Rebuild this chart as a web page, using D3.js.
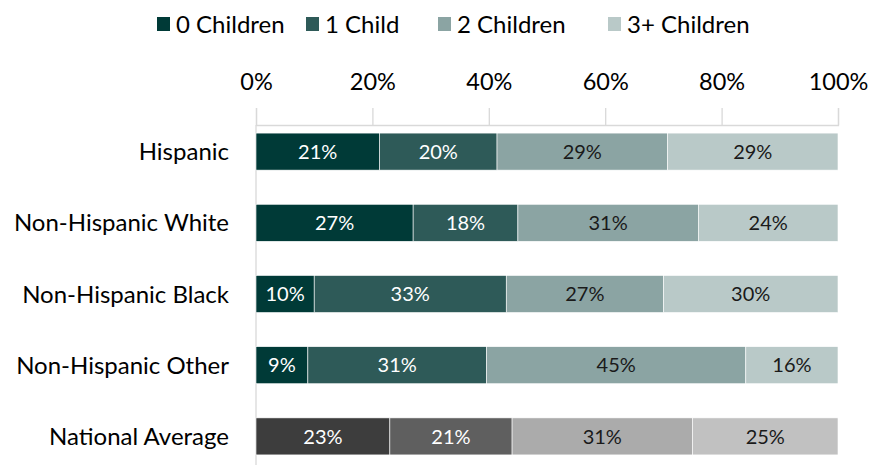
<!DOCTYPE html>
<html>
<head>
<meta charset="utf-8">
<script src="https://cdn.jsdelivr.net/npm/d3@7"></script>
<style>
  html, body { margin: 0; padding: 0; background: #fff; }
  svg { display: block; font-family: Lato, "Open Sans", sans-serif; }
</style>
</head>
<body>
<svg id="chart" width="870" height="465"></svg>
<script>
// Share of households by number of children, per group
const groups = ["Hispanic", "Non-Hispanic White", "Non-Hispanic Black", "Non-Hispanic Other", "National Average"];
const seriesNames = ["0 Children", "1 Child", "2 Children", "3+ Children"];
const zeroChildren  = [21, 27, 10, 9, 23];
const oneChild      = [20, 18, 33, 31, 21];
const twoChildren   = [29, 31, 27, 45, 31];
const threePlus     = [29, 24, 30, 16, 25];
const tickValues = [0, 0.2, 0.4, 0.6, 0.8, 1];

const teal = ["#003a37", "#2e5a58", "#8ba4a3", "#b9c9c8"];
const grey = ["#3d3d3d", "#5f5f5f", "#ababab", "#c1c1c1"];
const textOn = ["#ffffff", "#ffffff", "#1a1a1a", "#1a1a1a"];

const rows = groups.map((g, i) => ({
  group: g,
  "0 Children": zeroChildren[i],
  "1 Child": oneChild[i],
  "2 Children": twoChildren[i],
  "3+ Children": threePlus[i]
}));

// 100% stacked layout
const stack = d3.stack().keys(seriesNames).offset(d3.stackOffsetExpand);
const layers = stack(rows);

const svg = d3.select("#chart");
const left = 256, right = 838;

const x = d3.scaleLinear().domain([0, 1]).range([left, right]);
const y = d3.scaleBand().domain(groups).range([116, 472])
  .paddingInner(0.48).paddingOuter(0.24);

// Top axis
const axisY = 125;
const axis = svg.append("g").attr("transform", `translate(0,${axisY})`)
  .call(d3.axisTop(x).tickValues(tickValues).tickFormat(d3.format(".0%"))
    .tickSize(17).tickPadding(18));
axis.select(".domain").attr("stroke", "#d9d9d9").attr("stroke-width", 1.3);
axis.selectAll(".tick line").attr("stroke", "#d9d9d9").attr("stroke-width", 1.3);
axis.selectAll(".tick text").attr("font-size", 23.5).attr("fill", "#000")
  .attr("font-family", "Lato, sans-serif");

// Vertical category axis line
svg.append("line")
  .attr("x1", left).attr("x2", left)
  .attr("y1", axisY).attr("y2", 465)
  .attr("stroke", "#d9d9d9").attr("stroke-width", 1.3);

// Bars with value labels
layers.forEach((layer, k) => {
  const g = svg.append("g");
  g.selectAll("rect").data(layer).join("rect")
    .attr("x", d => x(d[0]))
    .attr("width", d => x(d[1]) - x(d[0]))
    .attr("y", d => y(d.data.group))
    .attr("height", y.bandwidth())
    .attr("fill", d => d.data.group === "National Average" ? grey[k] : teal[k])
    .attr("stroke", "#ffffff").attr("stroke-width", 0.6);
  g.selectAll("text").data(layer).join("text")
    .attr("x", d => (x(d[0]) + x(d[1])) / 2)
    .attr("y", d => y(d.data.group) + y.bandwidth() / 2)
    .attr("dy", "0.36em")
    .attr("text-anchor", "middle")
    .attr("font-size", 20)
    .attr("fill", textOn[k])
    .text(d => d.data[layer.key] + "%");
});

// Category labels
svg.append("g").selectAll("text").data(groups).join("text")
  .attr("x", 229)
  .attr("y", d => y(d) + y.bandwidth() / 2)
  .attr("dy", "0.36em")
  .attr("text-anchor", "end")
  .attr("font-size", 24)
  .attr("fill", "#000")
  .text(d => d);

// Legend
const legendX = [157, 306, 438, 608];
const legend = svg.append("g").selectAll("g").data(seriesNames).join("g")
  .attr("transform", (d, i) => `translate(${legendX[i]},17)`);
legend.append("rect").attr("width", 13).attr("height", 14)
  .attr("fill", (d, i) => teal[i]);
legend.append("text").attr("x", 19).attr("y", 7).attr("dy", "0.36em")
  .attr("font-size", 24).attr("fill", "#000").text(d => d);
</script>
</body>
</html>
